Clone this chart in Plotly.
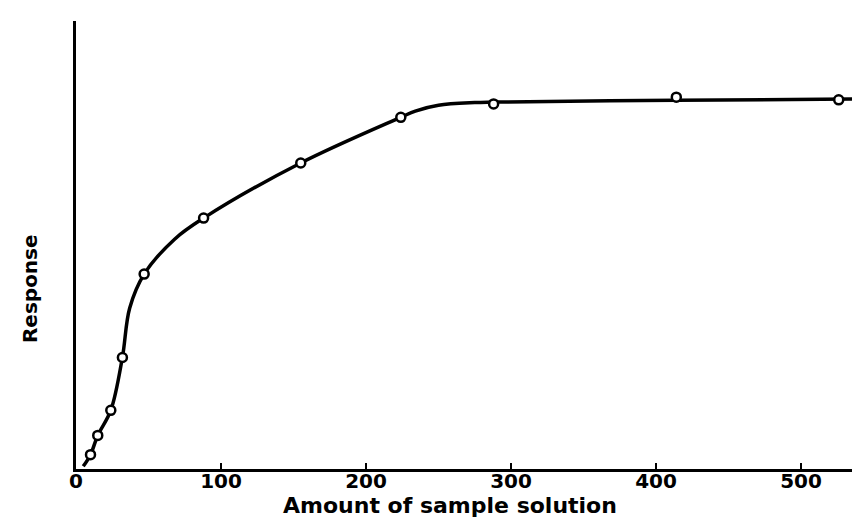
import plotly.graph_objects as go

# Measured points (open circles)
amount = [10, 15, 24, 32, 47, 88, 155, 224, 288, 414, 526]
response = [3.2, 7.5, 13.1, 24.9, 43.5, 56.0, 68.3, 78.5, 81.5, 83.0, 82.4]

# Hand-drawn smooth curve (knots)
curve_x = [5, 10, 15, 24, 32, 37, 47, 68, 88, 155, 224, 234, 250, 275, 288, 414, 546]
curve_y = [0.6, 3.2, 7.5, 13.1, 24.9, 35.9, 43.5, 51.3, 56.0, 68.3, 78.5, 79.9, 81.2, 81.8, 81.9, 82.3, 82.6]

tick_vals = [0, 100, 200, 300, 400, 500]
tick_text = ["0", "100", "200", "300", "400", "500"]

x_title = "Amount of sample solution"
y_title = "Response"

FONT = "DejaVu Sans"

fig = go.Figure()
fig.add_trace(go.Scatter(
    x=curve_x, y=curve_y, mode="lines",
    line=dict(color="black", width=3.5, shape="spline", smoothing=1.0),
    hoverinfo="skip", showlegend=False,
))
fig.add_trace(go.Scatter(
    x=amount, y=response, mode="markers",
    marker=dict(symbol="circle", size=9, color="white",
                line=dict(color="black", width=2.5)),
    showlegend=False,
))

fig.update_layout(
    width=860, height=518,
    margin=dict(l=68, r=0, t=13, b=57),
    paper_bgcolor="white", plot_bgcolor="white",
    font=dict(family=FONT, color="black"),
    xaxis=dict(
        range=[0, 546.2], showgrid=False, zeroline=False,
        showline=True, linecolor="black", linewidth=3,
        tickmode="array", tickvals=tick_vals, ticktext=tick_text,
        ticks="inside", ticklen=6, tickwidth=2, tickcolor="black",
        ticklabelstandoff=-8,
        tickfont=dict(family=FONT, size=20, color="black", weight="bold"),
    ),
    yaxis=dict(
        range=[0, 100], showgrid=False, zeroline=False,
        showline=True, linecolor="black", linewidth=3,
        showticklabels=False, ticks="",
    ),
    annotations=[
        dict(text=x_title, xref="paper", yref="paper", x=0.4716, y=-0.081,
             xanchor="center", yanchor="middle", showarrow=False,
             font=dict(family=FONT, size=22, color="black", weight="bold")),
        dict(text=y_title, xref="paper", yref="paper", x=-0.058, y=0.4018,
             xanchor="center", yanchor="middle", showarrow=False, textangle=-90,
             font=dict(family=FONT, size=20, color="black", weight="bold")),
    ],
)

fig.write_html("out.html")
